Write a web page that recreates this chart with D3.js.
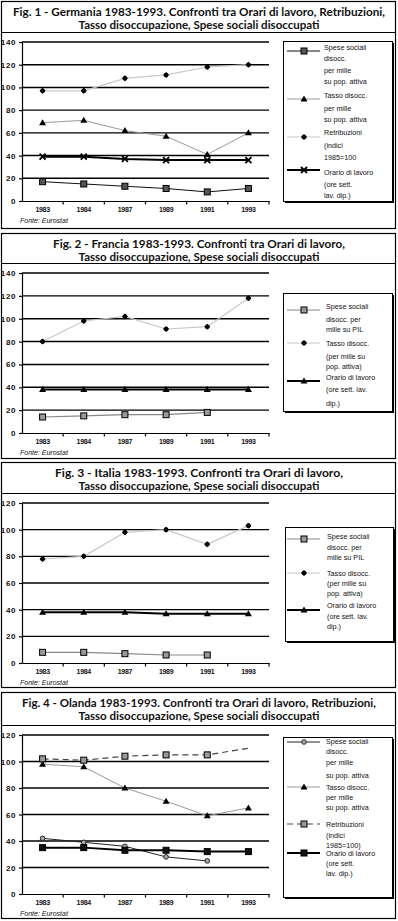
<!DOCTYPE html>
<html><head><meta charset="utf-8">
<script src="https://cdn.jsdelivr.net/npm/d3@7/dist/d3.min.js"></script>
<style>body{margin:0;background:#fff}svg{display:block}</style>
</head><body><svg id="c" width="398" height="921"></svg>
<script>
// ---------- DATA ----------
const years = ["1983","1984","1987","1989","1991","1993"];
const ticks140 = [0,20,40,60,80,100,120,140];
const ticks120 = [0,20,40,60,80,100,120];

// Fig. 1 Germania
const deSpese  = [17,15,13,11,8,11];
const deTasso  = [69,71,62,57,41,60];
const deRetrib = [97,97,108,111,118,120];
const deOrario = [39,39,37,36,36,36];
// Fig. 2 Francia
const frSpese  = [14,15,16,16,18,null];
const frTasso  = [80,98,102,91,93,118];
const frOrario = [38,38,38,38,38,38];
// Fig. 3 Italia
const itSpese  = [8,8,7,6,6,null];
const itTasso  = [78,80,98,100,89,103];
const itOrario = [38,38,38,37,37,37];
// Fig. 4 Olanda
const nlSpese  = [42,39,36,28,25,null];
const nlTasso  = [98,96,80,70,59,65];
const nlRetrib = [102,101,104,105,105,110];
const nlOrario = [35,35,33,33,32,32];

const subtitle = "Tasso disoccupazione, Spese sociali disoccupati";
const source = "Fonte: Eurostat";

// ---------- STYLES ----------
const S = {
  spBlack:  {stroke:"#111", w:1,   dash:null, marker:"square", fill:"#555"},
  tsGrey:   {stroke:"#999", w:1,   dash:null, marker:"triangle", fill:"#000"},
  reLight:  {stroke:"#c8c8c8", w:1.2, dash:null, marker:"dot", fill:"#000"},
  orX:      {stroke:"#000", w:2,   dash:null, marker:"x", fill:"#000"},
  spGrey:   {stroke:"#888", w:1.2, dash:null, marker:"square", fill:"#999"},
  tsLight:  {stroke:"#c8c8c8", w:1.2, dash:null, marker:"dot", fill:"#000"},
  orTri:    {stroke:"#000", w:2,   dash:null, marker:"triangle", fill:"#000"},
  spCirc:   {stroke:"#222", w:1,   dash:null, marker:"circle", fill:"#aaa"},
  reDash:   {stroke:"#444", w:1.2, dash:"6,4", marker:"square", fill:"#999", lastNoMarker:true},
  orSq:     {stroke:"#000", w:2,   dash:null, marker:"square", fill:"#111"}
};

const panels = [
  {top:1, sep:32, bottom:228, t1:"Fig. 1 - Germania 1983-1993. Confronti tra Orari di lavoro, Retribuzioni,", t1Len:372,
   yMax:140, ticks:ticks140, yTopPx:42, yZeroPx:201,
   series:[[deSpese,S.spBlack],[deTasso,S.tsGrey],[deRetrib,S.reLight],[deOrario,S.orX]],
   legend:{x0:283,y0:41,x1:392,y1:201,tx:324, items:[
     {style:S.spBlack, sy:51, lines:[["Spese sociali",47],["disocc.",58],["per mille",70],["su pop. attiva",81]]},
     {style:S.tsGrey, sy:99, lines:[["Tasso disocc.",95],["per mille",108],["su pop. attiva",119]]},
     {style:S.reLight, sy:137, lines:[["Retribuzioni",132],["(indici",145],["1985=100",157]]},
     {style:S.orX, sy:170, lines:[["Orario di lavoro",172],["(ore sett.",184],["lav. dip.)",195]]}]}},
  {top:233, sep:263, bottom:458, t1:"Fig. 2 - Francia 1983-1993. Confronti tra Orari di lavoro,", t1Len:292,
   yMax:140, ticks:ticks140, yTopPx:273, yZeroPx:433,
   series:[[frSpese,S.spGrey],[frTasso,S.tsLight],[frOrario,S.orTri]],
   legend:{x0:283,y0:293,x1:392,y1:411,tx:326, items:[
     {style:S.spGrey, sy:310, lines:[["Spese sociali",306],["disocc. per",319],["mille su PIL",329]]},
     {style:S.tsLight, sy:343, lines:[["Tasso disocc.",343],["(per mille su",356],["pop. attiva)",366]]},
     {style:S.orTri, sy:381, lines:[["Orario di lavoro",377],["(ore sett. lav.",389],["dip.)",403]]}]}},
  {top:462, sep:493, bottom:687, t1:"Fig. 3 - Italia 1983-1993. Confronti tra Orari di lavoro,", t1Len:288,
   yMax:120, ticks:ticks120, yTopPx:503, yZeroPx:663,
   series:[[itSpese,S.spGrey],[itTasso,S.tsLight],[itOrario,S.orTri]],
   legend:{x0:285,y0:527,x1:393,y1:641,tx:327, items:[
     {style:S.spGrey, sy:539, lines:[["Spese sociali",536],["disocc. per",547],["mille su PIL",557]]},
     {style:S.tsLight, sy:573, lines:[["Tasso disocc.",573],["(per mille su",583],["pop. attiva)",593]]},
     {style:S.orTri, sy:610, lines:[["Orario di lavoro",605],["(ore sett. lav.",616],["dip.)",626]]}]}},
  {top:692, sep:725, bottom:918, t1:"Fig. 4 - Olanda 1983-1993. Confronti tra Orari di lavoro, Retribuzioni,", t1Len:354,
   yMax:120, ticks:ticks120, yTopPx:735, yZeroPx:894,
   series:[[nlSpese,S.spCirc],[nlTasso,S.tsGrey],[nlRetrib,S.reDash],[nlOrario,S.orSq]],
   legend:{x0:283,y0:737,x1:392,y1:897,tx:326, items:[
     {style:S.spCirc, sy:742, lines:[["Spese sociali",741],["disocc.",751],["per mille",762],["su pop. attiva",775]]},
     {style:S.tsGrey, sy:787, lines:[["Tasso disocc.",787],["per mille",797],["su pop. attiva",807]]},
     {style:S.reDash, sy:824, lines:[["Retribuzioni",824],["(indici",835],["1985=100)",845]]},
     {style:S.orSq, sy:853, lines:[["Orario di lavoro",853],["(ore sett.",863],["lav. dip.)",873]]}]}}
];

// ---------- DRAW ----------
const svg = d3.select("#c");
const X0 = 22, X1 = 269;
const x = d3.scaleBand().domain(years).range([X0, X1]);
const cx = d => x(d) + x.bandwidth() / 2;

function marker(g, st, px, py) {
  const t = st.marker;
  if (t === "square") {
    g.append("rect").attr("x", px-3).attr("y", py-3).attr("width", 6).attr("height", 6)
      .attr("fill", st.fill).attr("stroke", "#000").attr("stroke-width", 1);
  } else if (t === "triangle") {
    g.append("path").attr("d", `M${px},${py-3.5}L${px+3.5},${py+2.5}L${px-3.5},${py+2.5}Z`).attr("fill", "#000");
  } else if (t === "dot") {
    g.append("path").attr("d", `M${px},${py-3}L${px+3},${py}L${px},${py+3}L${px-3},${py}Z`).attr("fill", "#000");
    g.append("circle").attr("cx", px).attr("cy", py).attr("r", 2.3).attr("fill", "#000");
  } else if (t === "circle") {
    g.append("circle").attr("cx", px).attr("cy", py).attr("r", 2.3)
      .attr("fill", st.fill).attr("stroke", "#222").attr("stroke-width", 1);
  } else if (t === "x") {
    g.append("path").attr("d", `M${px-3},${py-3}L${px+3},${py+3}M${px-3},${py+3}L${px+3},${py-3}`)
      .attr("stroke", "#000").attr("stroke-width", 1.8).attr("fill", "none");
  }
}

panels.forEach(p => {
  const g = svg.append("g");
  g.append("rect").attr("x", 1.5).attr("y", p.top + 0.5).attr("width", 394).attr("height", p.bottom - p.top)
    .attr("fill", "none").attr("stroke", "#000").attr("stroke-width", 1.2);
  g.append("line").attr("x1", 1.5).attr("x2", 395.5).attr("y1", p.sep + 0.5).attr("y2", p.sep + 0.5)
    .attr("stroke", "#000").attr("stroke-width", 1);

  const tf = g.append("g").attr("font-family", "Lato, 'DejaVu Sans', sans-serif").attr("font-weight", "bold")
    .attr("font-size", 11).attr("text-anchor", "middle").attr("fill", "#111");
  tf.append("text").attr("x", 199).attr("y", p.top + 15).attr("textLength", p.t1Len)
    .attr("lengthAdjust", "spacingAndGlyphs").text(p.t1);
  tf.append("text").attr("x", 199).attr("y", p.top + 28).attr("textLength", 241)
    .attr("lengthAdjust", "spacingAndGlyphs").text(subtitle);

  const y = d3.scaleLinear().domain([0, p.yMax]).range([p.yZeroPx, p.yTopPx]);

  // gridlines
  g.append("g").selectAll("line").data(p.ticks.filter(v => v > 0)).join("line")
    .attr("x1", X0).attr("x2", X1).attr("y1", d => y(d)).attr("y2", d => y(d))
    .attr("stroke", "#000").attr("stroke-width", 1.4);

  // y axis
  const ya = g.append("g").attr("transform", `translate(${X0},0)`)
    .call(d3.axisLeft(y).tickValues(p.ticks).tickSize(3).tickSizeOuter(0).tickPadding(3));
  ya.select(".domain").attr("stroke", "#000").attr("stroke-width", 1.2);
  ya.selectAll(".tick line").attr("stroke", "#000").attr("stroke-width", 1.2);
  ya.selectAll("text").attr("font-family", "'Liberation Sans', Arial, sans-serif")
    .attr("font-weight", "bold").attr("font-size", 8).attr("fill", "#111").attr("letter-spacing", 0.6);

  // x axis
  const xa = g.append("g").attr("transform", `translate(0,${y(0)})`)
    .call(d3.axisBottom(x).tickSize(0).tickSizeOuter(0).tickPadding(6));
  xa.select(".domain").attr("stroke", "#000").attr("stroke-width", 1.2);
  xa.selectAll("text").attr("font-family", "'Liberation Sans', Arial, sans-serif")
    .attr("font-weight", "bold").attr("font-size", 7).attr("fill", "#111").attr("letter-spacing", -0.3);
  const bounds = years.slice(1).map(d => x(d)).concat([X1]);
  g.append("g").selectAll("line").data(bounds).join("line")
    .attr("x1", d => d).attr("x2", d => d).attr("y1", y(0)).attr("y2", y(0) + 3.5)
    .attr("stroke", "#000").attr("stroke-width", 1.2);

  g.append("text").attr("x", 20).attr("y", y(0) + 22).attr("font-family", "'Liberation Sans', Arial, sans-serif")
    .attr("font-style", "italic").attr("font-size", 7).attr("fill", "#111").text(source);

  // series
  p.series.forEach(([vals, st]) => {
    const line = d3.line().defined(d => d.v != null).x(d => cx(d.k)).y(d => y(d.v));
    const pts = years.map((k, i) => ({k, v: vals[i], i}));
    g.append("path").datum(pts).attr("d", line).attr("fill", "none")
      .attr("stroke", st.stroke).attr("stroke-width", st.w).attr("stroke-dasharray", st.dash);
  });
  p.series.forEach(([vals, st]) => {
    const mg = g.append("g");
    years.forEach((k, i) => {
      if (vals[i] == null) return;
      if (st.lastNoMarker && i === years.length - 1) return;
      marker(mg, st, cx(k), y(vals[i]));
    });
  });

  // legend
  const L = p.legend;
  g.append("rect").attr("x", L.x0 + 2).attr("y", L.y0 + 2).attr("width", L.x1 - L.x0).attr("height", L.y1 - L.y0).attr("fill", "#000");
  g.append("rect").attr("x", L.x0 + 0.5).attr("y", L.y0 + 0.5).attr("width", L.x1 - L.x0).attr("height", L.y1 - L.y0)
    .attr("fill", "#fff").attr("stroke", "#000").attr("stroke-width", 1);
  L.items.forEach(it => {
    const st = it.style;
    g.append("line").attr("x1", 287).attr("x2", 320).attr("y1", it.sy).attr("y2", it.sy)
      .attr("stroke", st.stroke).attr("stroke-width", st.w).attr("stroke-dasharray", st.dash);
    marker(g, st, 304, it.sy);
    it.lines.forEach(([t, ly]) => {
      g.append("text").attr("x", L.tx).attr("y", ly + 2.5).attr("font-family", "'Liberation Sans', Arial, sans-serif")
        .attr("font-size", 7.2).attr("fill", "#111").text(t);
    });
  });
});
</script></body></html>
